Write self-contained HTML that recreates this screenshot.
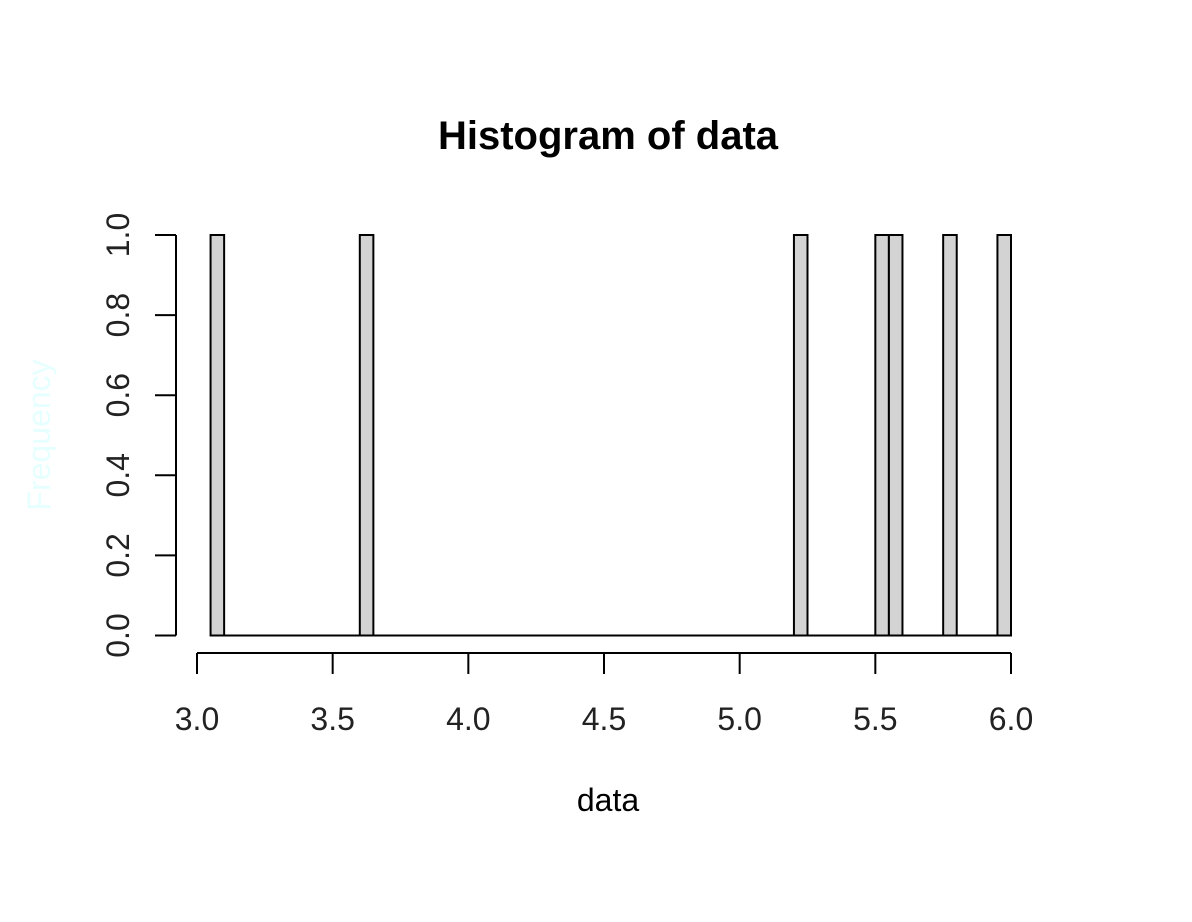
<!DOCTYPE html>
<html><head><meta charset="utf-8"><style>
html,body{margin:0;padding:0;background:#fff;}
svg{display:block;font-family:"Liberation Sans",Arial,sans-serif;}
</style></head><body>
<svg id="chart" width="1192" height="922" viewBox="0 0 1192 922">
<rect width="1192" height="922" fill="#fff"/>
<text x="608" y="149" font-size="40" font-weight="bold" text-anchor="middle">Histogram of data</text>
<text x="608" y="811" font-size="32" text-anchor="middle">data</text>
<text transform="translate(50,435) rotate(-90)" font-size="32" text-anchor="middle" fill="#e6ffff">Frequency</text>
<g id="bars"></g>
<g id="xaxis"></g>
<g id="yaxis"></g>
</svg>
<script>
const binStart = 3.05;
const binWidth = 0.05;
const counts = [1,0,0,0,0,0,0,0,0,0,0,1,0,0,0,0,0,0,0,0,0,0,0,0,0,0,0,0,0,0,0,0,0,0,0,0,0,0,0,0,0,0,0,1,0,0,0,0,0,1,1,0,0,0,1,0,0,0,1];
const xTicks = [3.0,3.5,4.0,4.5,5.0,5.5,6.0];
const xTickLabels = ["3.0","3.5","4.0","4.5","5.0","5.5","6.0"];
const yTicks = [0,0.2,0.4,0.6,0.8,1.0];
const yTickLabels = ["0.0","0.2","0.4","0.6","0.8","1.0"];

const NS = "http://www.w3.org/2000/svg";
function xs(v){ return 197 + (v - 3.0) * (1011 - 197) / 3.0; }
function ys(v){ return 635.5 - v * (635.5 - 235) / 1.0; }
function mk(tag, attrs, parent){ const e = document.createElementNS(NS, tag); for (const k in attrs) e.setAttribute(k, attrs[k]); parent.appendChild(e); return e; }

const bars = document.getElementById('bars');
counts.forEach((c, i) => {
  const x0 = xs(binStart + i * binWidth), x1 = xs(binStart + (i + 1) * binWidth);
  const r = mk('rect', {x: x0, y: ys(c), width: x1 - x0, height: Math.max(ys(0) - ys(c), 0.001), fill: '#d3d3d3', stroke: '#000', 'stroke-width': 2}, bars);
  
  
});

const xa = document.getElementById('xaxis');
mk('line', {x1: xs(xTicks[0]), x2: xs(xTicks[xTicks.length - 1]), y1: 653, y2: 653, stroke: '#000', 'stroke-width': 2}, xa);
xTicks.forEach((t, i) => {
  mk('line', {x1: xs(t), x2: xs(t), y1: 653, y2: 674, stroke: '#000', 'stroke-width': 2}, xa);
  const tx = mk('text', {x: xs(t), y: 730, 'font-size': 32, 'text-anchor': 'middle', fill: '#222'}, xa);
  tx.textContent = xTickLabels[i];
  
  
});

const ya = document.getElementById('yaxis');
mk('line', {x1: 176, x2: 176, y1: ys(yTicks[0]), y2: ys(yTicks[yTicks.length - 1]), stroke: '#000', 'stroke-width': 2}, ya);
yTicks.forEach((t, i) => {
  mk('line', {x1: 155, x2: 176, y1: ys(t), y2: ys(t), stroke: '#000', 'stroke-width': 2}, ya);
  const tx = mk('text', {transform: 'translate(129,' + ys(t) + ') rotate(-90)', 'font-size': 32, 'text-anchor': 'middle', fill: '#222'}, ya);
  tx.textContent = yTickLabels[i];
  
  
});
</script>
</body></html>
